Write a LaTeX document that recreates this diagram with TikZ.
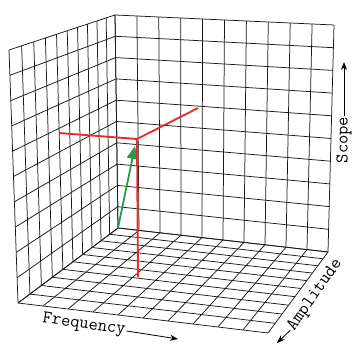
\documentclass[tikz,border=0pt]{standalone}
\usepackage{fontspec}
\usepackage{xcolor}
\usepackage{tikz}
\usetikzlibrary{arrows.meta,calc}
\definecolor{vecred}{RGB}{232,46,40}
\definecolor{vecgreen}{RGB}{38,156,72}

\begin{document}
\begin{tikzpicture}[x=1pt, y=-1pt, >={Stealth[length=8pt,width=6pt]},
  gridline/.style={black!90, line width=0.75pt},
  axislabel/.style={font=\ttfamily\fontsize{18}{20}\selectfont, inner sep=1pt},
  vecline/.style={vecred, line width=1.9pt}]
\useasboundingbox (0,0) rectangle (353,344);
% corners of the box (back corner O, amplitude end A, frequency end F)
\coordinate (O) at (118,228);
\coordinate (T) at (115,15);
\coordinate (A) at (18,303);
\coordinate (AT) at (9,50);
\coordinate (F) at (328,252);
\coordinate (FT) at (334,25);
\coordinate (AF) at (268,333);
% 10x10 cells on each wall, amplitude direction foreshortened towards the back
\foreach \i in {0,...,10}{
  \pgfmathsetmacro\a{\i*0.82/((10-\i)+\i*0.82)}
  \pgfmathsetmacro\f{\i/10}
  \draw[gridline] ($(O)!\a!(A)$) -- ($(T)!\a!(AT)$);
  \draw[gridline] ($(O)!\f!(T)$) -- ($(A)!\f!(AT)$);
  \draw[gridline] ($(O)!\f!(F)$) -- ($(T)!\f!(FT)$);
  \draw[gridline] ($(O)!\f!(T)$) -- ($(F)!\f!(FT)$);
  \draw[gridline] ($(O)!\a!(A)$) -- ($(F)!\a!(AF)$);
  \draw[gridline] ($(O)!\f!(F)$) -- ($(A)!\f!(AF)$);
}
% the vector and its projections
\coordinate (tip) at (135,146);
\coordinate (pt) at (137,139);
\coordinate (ptfloor) at (138,277);
\coordinate (ptleft) at (59,133);
\coordinate (ptback) at (198,108);
\draw[vecgreen, line width=1.8pt, -{Triangle[length=13pt,width=11pt]}] (O) -- (tip);
\draw[vecline] (ptleft) -- (pt) -- (ptback);
\draw[vecline] (pt) -- (ptfloor);
% axis names
\node[axislabel, rotate=-8] (freq) at (84,325) {Frequency};
\coordinate (freqend) at (178,339);
\draw[->, thick] (freq.east) -- (freqend);
\node[axislabel, rotate=90] (scope) at (344,140) {Scope};
\coordinate (scopeend) at (344,62);
\draw[->, thick] (scope.east) -- (scopeend);
\node[axislabel, rotate=55] (amp) at (315,295) {Amplitude};
\coordinate (ampend) at (277,343);
\draw[->, thick] (amp.west) -- (ampend);
\end{tikzpicture}
\end{document}
